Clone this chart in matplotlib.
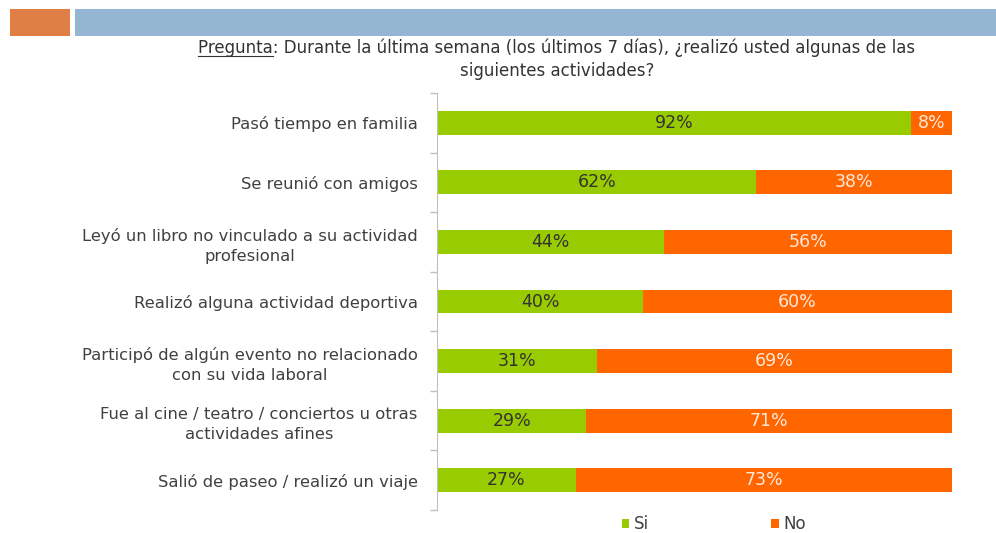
import matplotlib
matplotlib.use("Agg")
import matplotlib.pyplot as plt
from matplotlib.patches import Rectangle
from matplotlib.lines import Line2D
import numpy as np

categories = [
    "Pasó tiempo en familia",
    "Se reunió con amigos",
    "Leyó un libro no vinculado a su actividad\nprofesional",
    "Realizó alguna actividad deportiva",
    "Participó de algún evento no relacionado\ncon su vida laboral",
    "Fue al cine / teatro / conciertos u otras\nactividades afines",
    "Salió de paseo / realizó un viaje",
]
si = [92, 62, 44, 40, 31, 29, 27]
no = [8, 38, 56, 60, 69, 71, 73]
series_names = ["Si", "No"]

GREEN = "#99CC00"
ORANGE = "#FF6600"

plt.rcParams['font.family'] = ['DejaVu Sans']

fig = plt.figure(figsize=(9.96, 5.33), dpi=100)

# decorative header bars
fig.patches.append(Rectangle((10/996, 1-36/533), 60/996, 27/533, transform=fig.transFigure,
                             facecolor="#E07F45", edgecolor="none"))
fig.patches.append(Rectangle((75/996, 1-36/533), 921/996, 27/533, transform=fig.transFigure,
                             facecolor="#95B6D3", edgecolor="none"))

# title
TFS = 12.0
t1 = fig.text(557/996, 1-48/533,
              "Pregunta: Durante la última semana (los últimos 7 días), ¿realizó usted algunas de las",
              fontsize=TFS, color="#333333", ha="center", va="center")
fig.text(557/996, 1-71/533, "siguientes actividades?", fontsize=TFS, color="#333333",
         ha="center", va="center")

fig.canvas.draw()
r = fig.canvas.get_renderer()
bb = t1.get_window_extent(r)
tmp = fig.text(0, 0, "Pregunta", fontsize=TFS)
wb = tmp.get_window_extent(r)
tmp.remove()
x0 = bb.x0 / fig.bbox.width
x1 = (bb.x0 + wb.width) / fig.bbox.width
yl = (bb.y0 + 1) / fig.bbox.height
fig.add_artist(Line2D([x0, x1], [yl, yl], transform=fig.transFigure, color="#333333", lw=0.8))

ax = fig.add_axes([437/996, 1-510/533, (952-437)/996, (510-93)/533])
y = np.arange(len(categories))
b1 = ax.barh(y, si, height=0.4, color=GREEN, label=series_names[0])
b2 = ax.barh(y, no, left=si, height=0.4, color=ORANGE, label=series_names[1])

for i in range(len(categories)):
    ax.text(si[i] / 2, y[i], f"{si[i]}%", ha="center", va="center", fontsize=12.5, color="#333333")
    ax.text(si[i] + no[i] / 2, y[i], f"{no[i]}%", ha="center", va="center", fontsize=12.5, color="#FFE8DC")

ax.set_xlim(0, 100)
ax.set_ylim(len(categories) - 0.5, -0.5)
ax.set_yticks(y)
ax.set_yticklabels(categories, fontsize=11.8, color="#404040", multialignment="center",
                   linespacing=1.4)
ax.set_yticks(np.arange(-0.5, len(categories)), minor=True)
ax.tick_params(axis="y", which="major", length=0, pad=14)
ax.tick_params(axis="y", which="minor", length=5, color="#BFBFBF", width=1)
ax.set_xticks([])
for s in ["top", "right", "bottom"]:
    ax.spines[s].set_visible(False)
ax.spines["left"].set_color("#BFBFBF")

leg = fig.legend(handles=[b1, b2], labels=series_names, loc="center",
                 bbox_to_anchor=(714/996, 1-524/533), ncol=2, frameon=False,
                 fontsize=12, handlelength=0.45, handleheight=0.45, handletextpad=0.3,
                 columnspacing=7.3)
for t in leg.get_texts():
    t.set_color("#404040")

fig.savefig("out.png", dpi=100)
